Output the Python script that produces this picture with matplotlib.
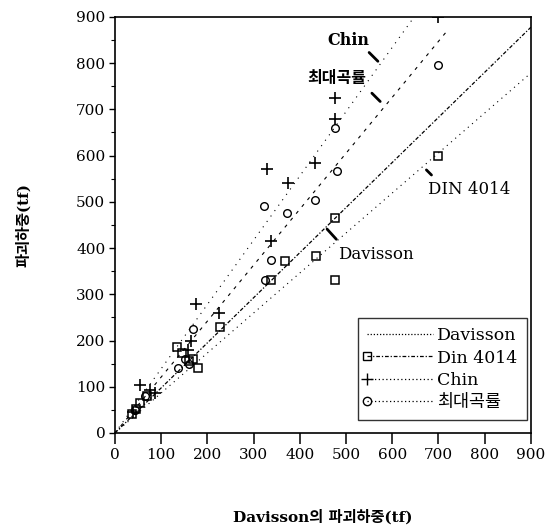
import matplotlib
matplotlib.use("Agg")
import matplotlib.pyplot as plt
import numpy as np
from matplotlib.lines import Line2D
from matplotlib.legend_handler import HandlerLine2D

FONT = ['DejaVu Serif', 'Noto Sans CJK KR']
plt.rcParams['font.family'] = FONT

# ---- data (Davisson load vs. other criteria, tf) ----
din_x = [36, 45, 55, 70, 135, 144, 160, 169, 179, 228, 337, 369, 434, 477, 477, 700]
din_y = [40, 52, 65, 80, 187, 172, 155, 161, 140, 230, 330, 371, 382, 465, 331, 600]

chin_x = [40, 54, 75, 86, 158, 165, 176, 226, 337, 330, 375, 433, 477, 477, 700]
chin_y = [45, 104, 93, 86, 180, 198, 280, 260, 415, 572, 540, 585, 725, 680, 900]

curv_x = [43, 65, 136, 151, 161, 169, 325, 337, 323, 373, 433, 481, 477, 700]
curv_y = [50, 79, 140, 161, 150, 225, 330, 374, 490, 476, 505, 566, 660, 795]

# regression-line slopes
slope_davisson = 0.975
slope_din = 0.865
slope_chin = 1.39
slope_curv = 1.21

ticks = [0, 100, 200, 300, 400, 500, 600, 700, 800, 900]
legend_labels = ['Davisson', 'Din 4014', 'Chin', '최대곡률']


class LeftMarkerHandler(HandlerLine2D):
    def create_artists(self, *args, **kwargs):
        artists = super().create_artists(*args, **kwargs)
        for a in artists:
            if isinstance(a, Line2D) and a.get_marker() not in (None, 'None', ''):
                a.set_markevery([0])
        return artists


fig = plt.figure(figsize=(5.45, 5.28), dpi=100)
ax = fig.add_axes([0.211, 0.180, 0.763, 0.788])

# lines
xd = np.array([0, 900])
ax.plot(xd, slope_davisson * xd, color='black', lw=0.9, ls=(0, (3, 1.5, 1, 1.5)))
ax.plot(xd, slope_din * xd, color='black', lw=0.8, ls=(0, (1, 4)))
xc = np.array([0, 900 / slope_chin])
ax.plot(xc, slope_chin * xc, color='black', lw=0.8, ls=(0, (1, 5)))
xm = np.array([0, 720])
ax.plot(xm, slope_curv * xm, color='black', lw=0.8, ls=(0, (3, 5)))

# markers
ax.plot(din_x, din_y, ls='none', marker='s', ms=5.5, mfc='none', mec='black', mew=1.1)
ax.plot(chin_x, chin_y, ls='none', marker='+', ms=8, mec='black', mew=1.2)
ax.plot(curv_x, curv_y, ls='none', marker='o', ms=5.5, mfc='none', mec='black', mew=1.0)

ax.set_xlim(0, 900)
ax.set_ylim(0, 900)
ax.set_xticks(ticks)
ax.set_yticks(ticks)
ax.set_yticks([50, 150, 250, 350, 450, 550, 650, 750, 850], minor=True)
ax.tick_params(axis='x', direction='out', length=8, width=1.1, labelsize=11, pad=3)
ax.tick_params(axis='y', which='major', direction='out', length=4, width=1.0, labelsize=11, pad=3)
ax.tick_params(axis='y', which='minor', direction='out', length=3, width=0.8)
for sp in ax.spines.values():
    sp.set_linewidth(1.2)

ax.set_xlabel('Davisson의 파괴하중(tf)', fontsize=11, fontweight='bold', labelpad=34)
ax.set_ylabel('파괴하중(tf)', fontsize=11, fontweight='bold', labelpad=32)

# annotations
akw = dict(arrowstyle='-', lw=2.0, color='black', shrinkA=0, shrinkB=0)
ax.text(506, 848, 'Chin', fontsize=11.5, fontweight='bold', ha='center', va='center')
ax.annotate('', xy=(569, 804), xytext=(550, 823), arrowprops=akw)
ax.text(480, 766, '최대곡률', fontsize=11.5, fontweight='bold', ha='center', va='center')
ax.annotate('', xy=(574, 717), xytext=(556, 735), arrowprops=akw)
ax.text(767, 526, 'DIN 4014', fontsize=12, ha='center', va='center')
ax.annotate('', xy=(685, 558), xytext=(674, 569), arrowprops=akw)
ax.text(564, 385, 'Davisson', fontsize=12, ha='center', va='center')
ax.annotate('', xy=(479, 419), xytext=(459, 441), arrowprops=akw)

# legend
handles = [
    Line2D([], [], color='black', lw=0.9, ls=(0, (1, 1.5))),
    Line2D([], [], color='black', lw=0.9, ls=(0, (3, 1.5, 1, 1.5)), marker='s', ms=6,
           mfc='none', mec='black'),
    Line2D([], [], color='black', lw=0.9, ls=(0, (1, 2)), marker='+', ms=8),
    Line2D([], [], color='black', lw=0.9, ls=(0, (1, 2)), marker='o', ms=6,
           mfc='none', mec='black'),
]
leg = ax.legend(handles, legend_labels, loc='lower right', bbox_to_anchor=(0.99, 0.03),
                fontsize=12.5, frameon=True, fancybox=False, edgecolor='black',
                handlelength=3.8, handletextpad=0.2, borderpad=0.55, labelspacing=0.3,
                borderaxespad=0.0, handler_map={Line2D: LeftMarkerHandler()})
leg.get_frame().set_linewidth(1.0)

fig.savefig('out.png', dpi=100)
